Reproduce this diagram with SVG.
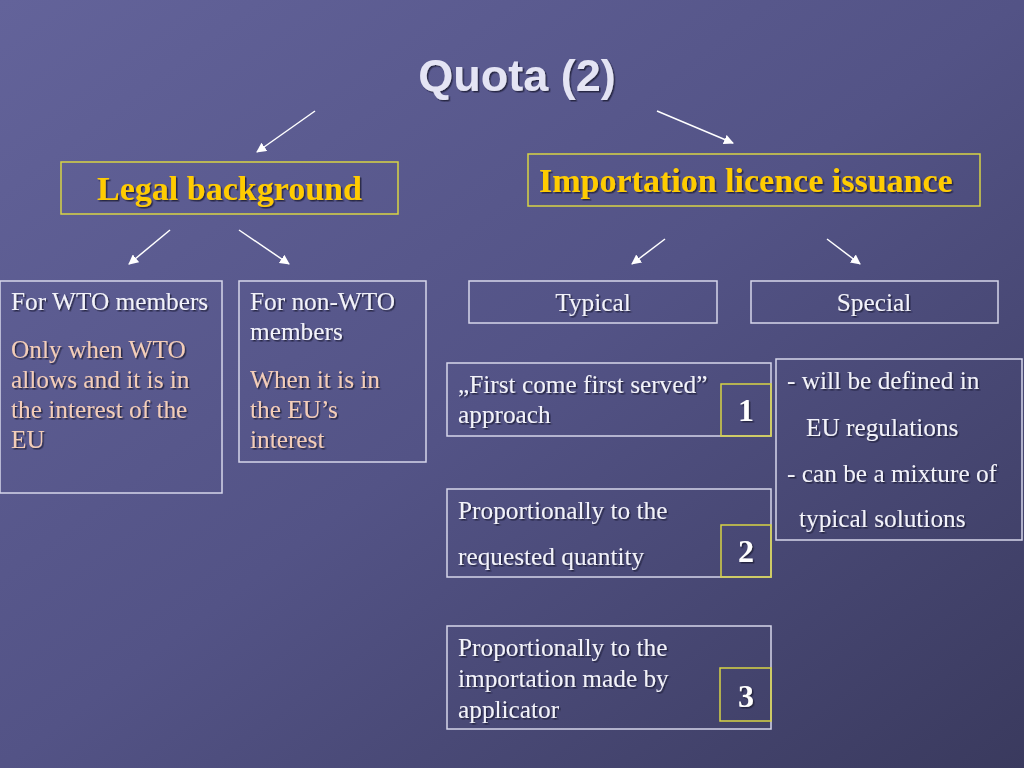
<svg xmlns="http://www.w3.org/2000/svg" width="1024" height="768" viewBox="0 0 1024 768">
<defs>
<linearGradient id="bg" x1="0" y1="0" x2="1" y2="1">
<stop offset="0" stop-color="#63639a"/>
<stop offset="0.5" stop-color="#535386"/>
<stop offset="1" stop-color="#3a3a5e"/>
</linearGradient>
<filter id="sh" x="-10%" y="-30%" width="120%" height="160%">
<feDropShadow dx="1.5" dy="1.5" stdDeviation="0.6" flood-color="#1c1c38" flood-opacity="0.85"/>
</filter>
<marker id="ah" viewBox="0 0 10 10" refX="9" refY="5" markerWidth="10" markerHeight="10" markerUnits="userSpaceOnUse" orient="auto">
<path d="M0,0 L10,5 L0,10 z" fill="#ffffff"/>
</marker>
<style>
.box{fill:none;stroke:#d6d6ea;stroke-width:1.5}
.ybox{fill:none;stroke:#d8d444;stroke-width:1.5}
.t{font-family:"Liberation Serif","Times New Roman",serif;font-size:25.3px;fill:#f2f2fa;filter:url(#sh)}
.p{font-family:"Liberation Serif","Times New Roman",serif;font-size:25.3px;fill:#f3cdb9;filter:url(#sh)}
.h{font-family:"Liberation Serif","Times New Roman",serif;font-size:34px;font-weight:bold;fill:#ffcc00;filter:url(#sh)}
.n{font-family:"Liberation Serif","Times New Roman",serif;font-size:32px;font-weight:bold;fill:#ffffff;text-anchor:middle;filter:url(#sh)}
.title{font-family:"Liberation Sans",Arial,sans-serif;font-size:45px;font-weight:bold;fill:#e4e4f4;text-anchor:middle;filter:url(#sh)}
.c{stroke:#ffffff;stroke-width:1.5;fill:none;marker-end:url(#ah)}
</style>
</defs>
<rect x="0" y="0" width="1024" height="768" fill="url(#bg)"/>

<text class="title" x="517" y="91">Quota (2)</text>

<g id="connectors">
<line class="c" x1="315" y1="111" x2="257" y2="152"/>
<line class="c" x1="657" y1="111" x2="733" y2="143"/>
<line class="c" x1="170" y1="230" x2="129" y2="264"/>
<line class="c" x1="239" y1="230" x2="289" y2="264"/>
<line class="c" x1="665" y1="239" x2="632" y2="264"/>
<line class="c" x1="827" y1="239" x2="860" y2="264"/>
</g>

<g id="legal">
<rect class="ybox" x="61" y="162" width="337" height="52"/>
<text class="h" x="229.5" y="200" text-anchor="middle">Legal background</text>
</g>

<g id="importation">
<rect class="ybox" x="528" y="154" width="452" height="52"/>
<text class="h" x="539" y="192">Importation licence issuance</text>
</g>

<g id="wto">
<rect class="box" x="0" y="281" width="222" height="212"/>
<text class="t" x="11" y="310">For WTO members</text>
<text class="p" x="11" y="358">Only when WTO</text>
<text class="p" x="11" y="388">allows and it is in</text>
<text class="p" x="11" y="418">the interest of the</text>
<text class="p" x="11" y="448">EU</text>
</g>

<g id="nonwto">
<rect class="box" x="239" y="281" width="187" height="181"/>
<text class="t" x="250" y="310">For non-WTO</text>
<text class="t" x="250" y="340">members</text>
<text class="p" x="250" y="388">When it is in</text>
<text class="p" x="250" y="418">the EU’s</text>
<text class="p" x="250" y="448">interest</text>
</g>

<g id="typical">
<rect class="box" x="469" y="281" width="248" height="42"/>
<text class="t" x="593" y="311" text-anchor="middle">Typical</text>
</g>

<g id="special">
<rect class="box" x="751" y="281" width="247" height="42"/>
<text class="t" x="874" y="311" text-anchor="middle">Special</text>
</g>

<g id="first">
<rect class="box" x="447" y="363" width="324" height="73"/>
<text class="t" x="458" y="393">„First come first served”</text>
<text class="t" x="458" y="423">approach</text>
<rect class="ybox" x="721" y="384" width="50" height="52"/>
<text class="n" x="746" y="421">1</text>
</g>

<g id="special-list">
<rect class="box" x="776" y="359" width="246" height="181"/>
<text class="t" x="787" y="389">- will be defined in</text>
<text class="t" x="806" y="436">EU regulations</text>
<text class="t" x="787" y="482">- can be a mixture of</text>
<text class="t" x="799" y="527">typical solutions</text>
</g>

<g id="requested">
<rect class="box" x="447" y="489" width="324" height="88"/>
<text class="t" x="458" y="519">Proportionally to the</text>
<text class="t" x="458" y="565">requested quantity</text>
<rect class="ybox" x="721" y="525" width="50" height="52"/>
<text class="n" x="746" y="562">2</text>
</g>

<g id="importation-made">
<rect class="box" x="447" y="626" width="324" height="103"/>
<text class="t" x="458" y="656">Proportionally to the</text>
<text class="t" x="458" y="687">importation made by</text>
<text class="t" x="458" y="718">applicator</text>
<rect class="ybox" x="720" y="668" width="51" height="53"/>
<text class="n" x="746" y="707">3</text>
</g>
</svg>
